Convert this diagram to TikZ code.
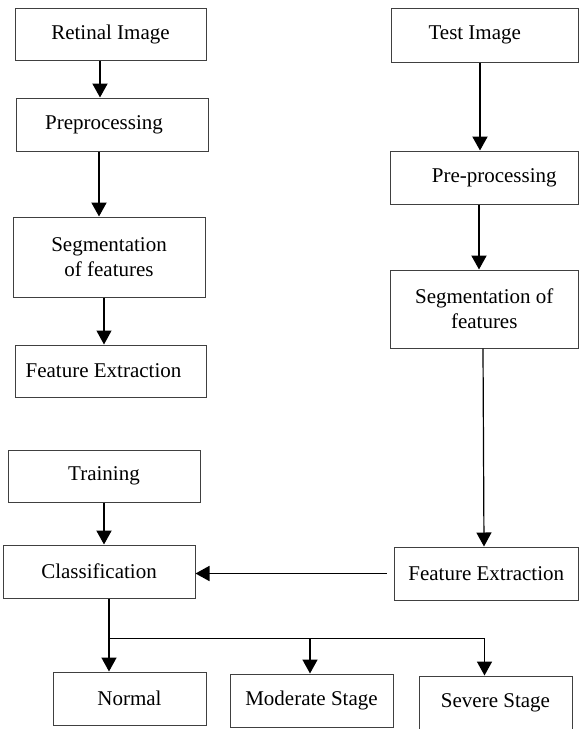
\documentclass[tikz,border=0pt]{standalone}
\usepackage{fontspec}
\setmainfont{Liberation Serif}
\usetikzlibrary{arrows.meta,calc}
\begin{document}
\begin{tikzpicture}[x=0.5pt,y=-0.5pt,
  box/.style={draw=black!75,line width=0.5pt,inner sep=0pt,align=center,
    font=\fontsize{10.5}{12.5}\selectfont},
  arr/.style={-{Triangle[width=7.5pt,length=7pt]},line width=1pt},
  arrthin/.style={-{Triangle[width=7.5pt,length=7pt]},line width=0.6pt},
  lbl/.style={font=\fontsize{10.5}{12.5}\selectfont,align=center}]
\useasboundingbox (0,0) rectangle (579,729);
% left column
\node[box,minimum width=95.5pt,minimum height=26pt] (ri) at (110.5,34) {Retinal Image};
\node[box,minimum width=96pt,minimum height=26.5pt,label={[lbl,xshift=-4pt]center:Preprocessing}] (pp) at (112,124.5) {};
\node[box,minimum width=96pt,minimum height=40pt] (sg) at (109,257) {Segmentation\\of features};
\node[box,minimum width=95.5pt,minimum height=26pt,label={[lbl,xshift=-3.5pt]center:Feature Extraction}] (fe) at (110.5,371) {};
\node[box,minimum width=96pt,minimum height=26pt] (tr) at (104,476) {Training};
\node[box,minimum width=96pt,minimum height=26.5pt] (cl) at (99,571.5) {Classification};
% outcomes
\node[box,minimum width=76.5pt,minimum height=26.5pt] (no) at (129.5,698.5) {Normal};
\node[box,minimum width=81.5pt,minimum height=26.5pt] (mo) at (311.5,700.5) {Moderate Stage};
\node[box,minimum width=76.5pt,minimum height=27pt] (se) at (495.5,703) {Severe Stage};
% right column
\node[box,minimum width=93.75pt,minimum height=27pt,label={[lbl,xshift=-5pt]center:Test Image}] (ti) at (484.75,35) {};
\node[box,minimum width=94.25pt,minimum height=26.5pt,label={[lbl,xshift=5pt]center:Pre-processing}] (pr) at (484.25,177.5) {};
\node[box,minimum width=94.25pt,minimum height=39pt] (sr) at (484.25,309) {Segmentation of\\features};
\node[box,minimum width=92.25pt,minimum height=26.5pt] (fr) at (486.25,573.5) {Feature Extraction};
% connectors left
\draw[arr] ($(ri.south)+(-10.5,0)$) coordinate (a1) -- (a1 |- pp.north);
\draw[arr] ($(pp.south)+(-13,0)$) coordinate (a2) -- (a2 |- sg.north);
\draw[arrthin] ($(sg.south)+(-5,0)$) coordinate (a3) -- (a3 |- fe.north);
\draw[arr] (tr.south) -- (tr.south |- cl.north);
% connectors right
\draw[arr] ($(ti.south)+(-4.75,0)$) coordinate (b1) -- (b1 |- pr.north);
\draw[arr] ($(pr.south)+(-5.25,0)$) coordinate (b2) -- (b2 |- sr.north);
\draw[arrthin] ($(sr.south)+(-1.25,0)$) -- ($(fr.north)+(-2.25,0)$);
\draw[arr,line width=0.85pt] ($(fr.west)+(-7,0)$) coordinate (b3) -- (cl.east |- b3);
% classification outputs
\coordinate (br) at ($(cl.south)+(10,40)$);
\coordinate (m1) at ($(mo.north)+(-1.5,0)$);
\coordinate (s1) at ($(se.north)+(-11,0)$);
\draw[line width=0.5pt] (br) -- (br -| s1);
\draw[arr,line width=0.8pt] (cl.south -| br) -- (no.north -| br);
\draw[arr,line width=0.8pt] (br -| m1) -- (m1);
\draw[arr,line width=0.8pt] (br -| s1) -- (s1);
\end{tikzpicture}
\end{document}
